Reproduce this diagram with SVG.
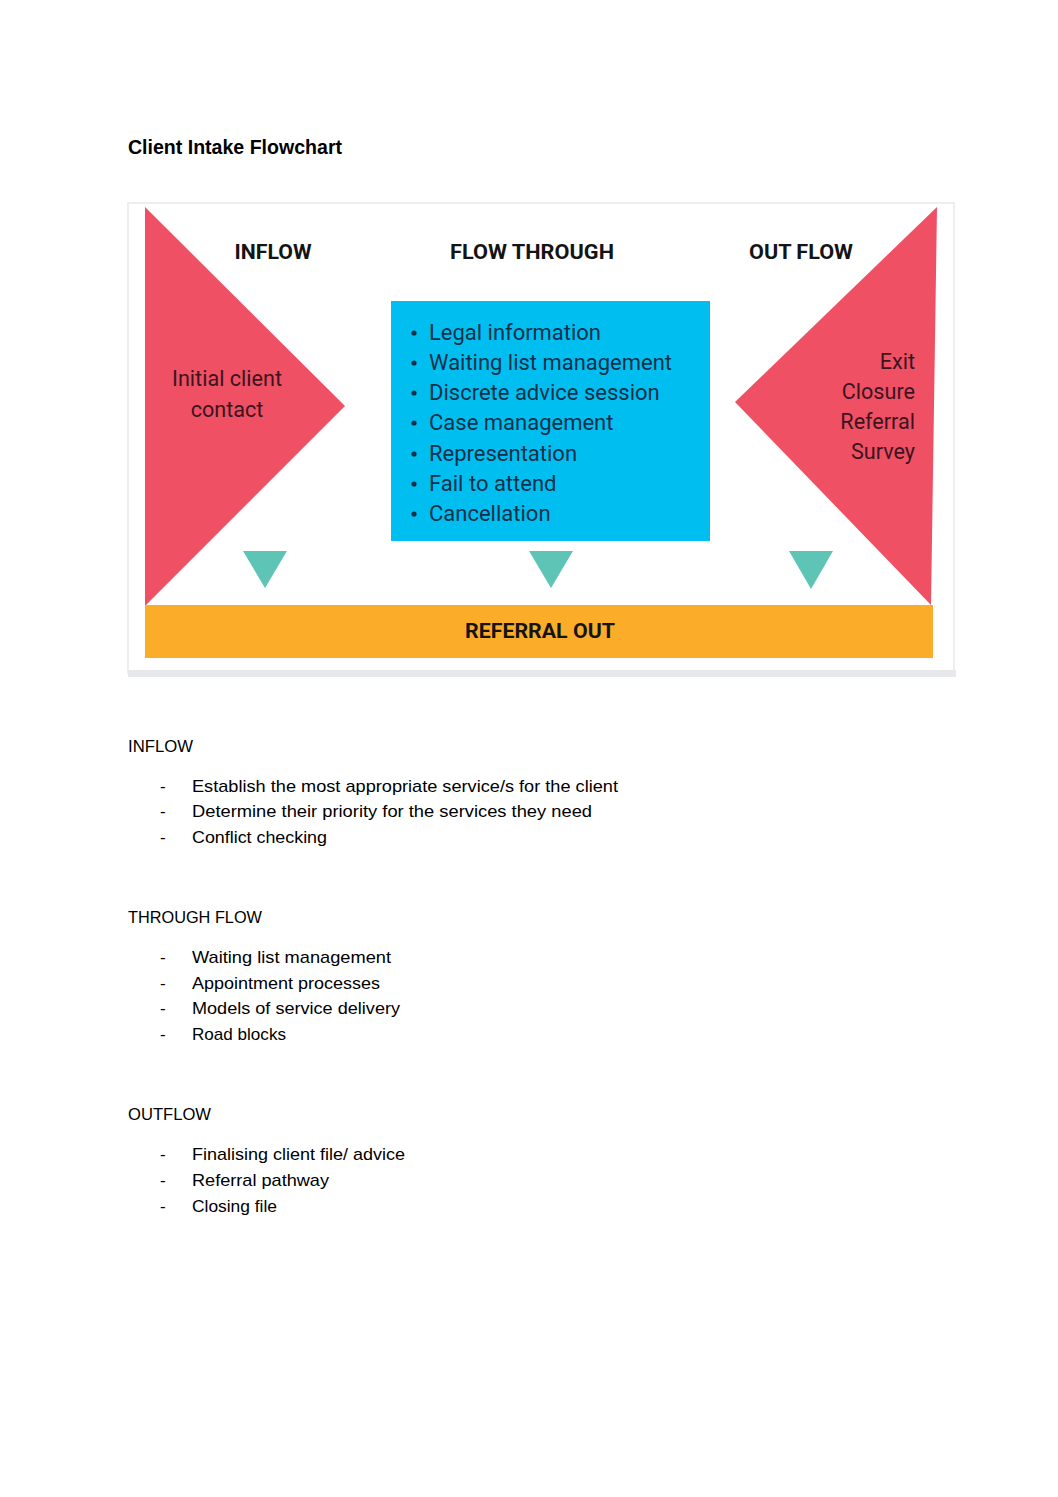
<svg xmlns="http://www.w3.org/2000/svg" width="1058" height="1497" viewBox="0 0 1058 1497">
<style>
.hdr{font-family:Roboto,"Liberation Sans",sans-serif;font-weight:bold;font-size:20px;fill:#141414;text-anchor:middle}
.lst{font-family:Roboto,"Liberation Sans",sans-serif;font-size:22px;fill:#10304a}
.red{font-family:Roboto,"Liberation Sans",sans-serif;font-size:21.6px;fill:#3c1420}
.doc{font-family:"Liberation Sans","Open Sans",sans-serif;font-size:17px;fill:#000}
.tri{fill:#ef5064}
.arr{fill:#5ec4b6}
</style>
<rect width="1058" height="1497" fill="#fff"/>
<text x="128" y="154" font-family="'Liberation Sans',sans-serif" font-size="21" font-weight="bold" fill="#000" textLength="214" lengthAdjust="spacingAndGlyphs">Client Intake Flowchart</text>
<g id="frame">
<rect x="128" y="203" width="826" height="470" fill="#fff" stroke="#eceef0" stroke-width="2"/>
<rect x="128" y="670" width="828" height="7" fill="#e6e8eb"/>
</g>
<g id="inflow">
<polygon class="tri" points="145,207 145,606 345,406"/>
<text class="hdr" x="273" y="259" textLength="77" lengthAdjust="spacingAndGlyphs">INFLOW</text>
<text class="red" x="227" y="386" text-anchor="middle">Initial client</text>
<text class="red" x="227" y="417" text-anchor="middle">contact</text>
</g>
<g id="outflow">
<polygon class="tri" points="937,207 931,605 735,402"/>
<text class="hdr" x="801" y="259" textLength="104" lengthAdjust="spacingAndGlyphs">OUT FLOW</text>
<text class="red" x="915" y="369" text-anchor="end">Exit</text>
<text class="red" x="915" y="399" text-anchor="end">Closure</text>
<text class="red" x="915" y="429" text-anchor="end">Referral</text>
<text class="red" x="915" y="459" text-anchor="end">Survey</text>
</g>
<g id="flowthrough">
<text class="hdr" x="532" y="259" textLength="164" lengthAdjust="spacingAndGlyphs">FLOW THROUGH</text>
<rect x="391" y="301" width="319" height="240" fill="#00bff0"/>
<g fill="#10304a">
<circle cx="414" cy="333" r="2.6"/><circle cx="414" cy="363" r="2.6"/><circle cx="414" cy="393" r="2.6"/><circle cx="414" cy="423" r="2.6"/><circle cx="414" cy="454" r="2.6"/><circle cx="414" cy="484" r="2.6"/><circle cx="414" cy="514" r="2.6"/>
</g>
<text class="lst" x="429" y="340" textLength="172" lengthAdjust="spacingAndGlyphs">Legal information</text>
<text class="lst" x="429" y="370" textLength="243" lengthAdjust="spacingAndGlyphs">Waiting list management</text>
<text class="lst" x="429" y="400">Discrete advice session</text>
<text class="lst" x="429" y="430">Case management</text>
<text class="lst" x="429" y="461">Representation</text>
<text class="lst" x="429" y="491">Fail to attend</text>
<text class="lst" x="429" y="521">Cancellation</text>
</g>
<g id="connectors">
<polygon class="arr" points="243,551 287,551 265,588"/>
<polygon class="arr" points="529,551 573,551 551,588"/>
<polygon class="arr" points="789,551 833,551 811,589"/>
</g>
<g id="referral">
<rect x="145" y="605" width="788" height="53" fill="#fbad2a"/>
<text class="hdr" x="540" y="638" textLength="150" lengthAdjust="spacingAndGlyphs">REFERRAL OUT</text>
</g>
<g id="notes" class="doc">
<text x="128" y="752" textLength="65" lengthAdjust="spacingAndGlyphs">INFLOW</text>
<text x="160" y="792">-</text><text x="192" y="792" textLength="426" lengthAdjust="spacingAndGlyphs">Establish the most appropriate service/s for the client</text>
<text x="160" y="817">-</text><text x="192" y="817" textLength="400" lengthAdjust="spacingAndGlyphs">Determine their priority for the services they need</text>
<text x="160" y="843">-</text><text x="192" y="843" textLength="135" lengthAdjust="spacingAndGlyphs">Conflict checking</text>
<text x="128" y="923" textLength="134" lengthAdjust="spacingAndGlyphs">THROUGH FLOW</text>
<text x="160" y="963">-</text><text x="192" y="963" textLength="199" lengthAdjust="spacingAndGlyphs">Waiting list management</text>
<text x="160" y="989">-</text><text x="192" y="989" textLength="188" lengthAdjust="spacingAndGlyphs">Appointment processes</text>
<text x="160" y="1014">-</text><text x="192" y="1014" textLength="208" lengthAdjust="spacingAndGlyphs">Models of service delivery</text>
<text x="160" y="1040">-</text><text x="192" y="1040" textLength="94" lengthAdjust="spacingAndGlyphs">Road blocks</text>
<text x="128" y="1120" textLength="83" lengthAdjust="spacingAndGlyphs">OUTFLOW</text>
<text x="160" y="1160">-</text><text x="192" y="1160" textLength="213" lengthAdjust="spacingAndGlyphs">Finalising client file/ advice</text>
<text x="160" y="1186">-</text><text x="192" y="1186" textLength="137" lengthAdjust="spacingAndGlyphs">Referral pathway</text>
<text x="160" y="1212">-</text><text x="192" y="1212" textLength="85" lengthAdjust="spacingAndGlyphs">Closing file</text>
</g>
</svg>
